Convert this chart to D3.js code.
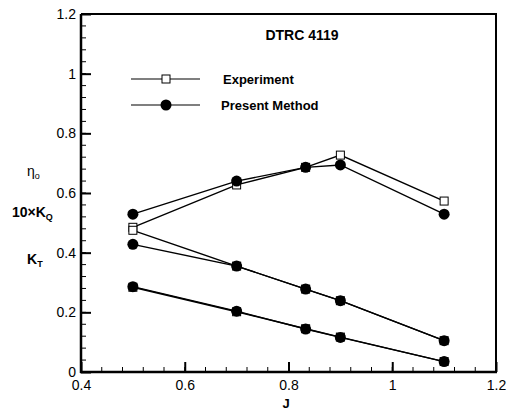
<!DOCTYPE html>
<html><head><meta charset="utf-8">
<script src="https://cdn.jsdelivr.net/npm/d3@7"></script>
<style>body{margin:0;background:#fff}svg{display:block;font-family:"Liberation Sans",Arial,sans-serif}</style>
</head><body><svg id="c" width="514" height="411"></svg>
<script>
const J = [0.5, 0.7, 0.833, 0.9, 1.1];
const etaExp = [0.485, 0.627, 0.686, 0.727, 0.573];
const etaPres = [0.529, 0.640, 0.686, 0.694, 0.529];
const kqExp = [0.475, 0.355, 0.278, 0.239, 0.105];
const kqPres = [0.428, 0.355, 0.278, 0.239, 0.105];
const ktExp = [0.284, 0.202, 0.145, 0.117, 0.035];
const ktPres = [0.286, 0.204, 0.144, 0.116, 0.035];
const xTicks = [0.4, 0.6, 0.8, 1, 1.2];
const yTicks = [0, 0.2, 0.4, 0.6, 0.8, 1, 1.2];
const title = "DTRC 4119";
const legendLabels = ["Experiment", "Present Method"];

const svg = d3.select("#c");
const x = d3.scaleLinear().domain([0.4, 1.2]).range([81, 496]);
const y = d3.scaleLinear().domain([0, 1.2]).range([372, 14]);

// minor ticks
const xMinor = d3.range(0.4, 1.2001, 0.04);
const yMinor = d3.range(0, 1.2001, 0.04);
const g = svg.append("g");
g.selectAll(".xm").data(xMinor).join("line")
  .attr("x1", d => x(d)).attr("x2", d => x(d)).attr("y1", 372).attr("y2", 367)
  .attr("stroke", "#000").attr("stroke-width", 1);
g.selectAll(".ym").data(yMinor).join("line")
  .attr("y1", d => y(d)).attr("y2", d => y(d)).attr("x1", 81).attr("x2", 86)
  .attr("stroke", "#000").attr("stroke-width", 1);

// axes with inward major ticks
const xAxis = svg.append("g").attr("transform", "translate(0,372)")
  .call(d3.axisBottom(x).tickValues(xTicks).tickSize(-10).tickFormat(d3.format("~g")).tickPadding(14));
const yAxis = svg.append("g").attr("transform", "translate(81,0)")
  .call(d3.axisLeft(y).tickValues(yTicks).tickSize(-10).tickFormat(d3.format("~g")).tickPadding(5));
[xAxis, yAxis].forEach(a => {
  a.select(".domain").remove();
  a.selectAll(".tick line").attr("stroke-width", 2);
  a.selectAll("text").attr("font-size", 14).attr("fill", "#000")
    .attr("font-family", "'Liberation Sans',Arial,sans-serif");
});
xAxis.selectAll("text").attr("dy", "0.3em");

// frame
svg.append("line").attr("x1", 81).attr("x2", 81).attr("y1", 14).attr("y2", 373).attr("stroke", "#000").attr("stroke-width", 2.5);
svg.append("line").attr("x1", 80).attr("x2", 497).attr("y1", 372).attr("y2", 372).attr("stroke", "#000").attr("stroke-width", 2.5);
svg.append("line").attr("x1", 81).attr("x2", 497).attr("y1", 14).attr("y2", 14).attr("stroke", "#000").attr("stroke-width", 2);
svg.append("line").attr("x1", 496).attr("x2", 496).attr("y1", 14).attr("y2", 373).attr("stroke", "#000").attr("stroke-width", 2);

const line = d3.line().x(d => x(d[0])).y(d => y(d[1]));
const expSeries = [etaExp, kqExp, ktExp];
const presSeries = [etaPres, kqPres, ktPres];
const plot = svg.append("g");
expSeries.concat(presSeries).forEach(s => {
  plot.append("path").datum(J.map((j, i) => [j, s[i]])).attr("d", line)
    .attr("fill", "none").attr("stroke", "#000").attr("stroke-width", 1.4);
});
expSeries.forEach(s => {
  plot.selectAll(null).data(J.map((j, i) => [j, s[i]])).join("rect")
    .attr("x", d => x(d[0]) - 4).attr("y", d => y(d[1]) - 4).attr("width", 8).attr("height", 8)
    .attr("fill", "#fff").attr("stroke", "#000").attr("stroke-width", 1);
});
presSeries.forEach(s => {
  plot.selectAll(null).data(J.map((j, i) => [j, s[i]])).join("circle")
    .attr("cx", d => x(d[0])).attr("cy", d => y(d[1])).attr("r", 5.5).attr("fill", "#000");
});

// title
svg.append("text").attr("x", 302).attr("y", 40).attr("text-anchor", "middle")
  .attr("font-size", 14).attr("font-weight", "bold").text(title);

// legend
const legY = [79, 105];
legendLabels.forEach((lab, i) => {
  svg.append("line").attr("x1", 131).attr("x2", 200).attr("y1", legY[i]).attr("y2", legY[i])
    .attr("stroke", "#000").attr("stroke-width", 1.2);
  if (i === 0) svg.append("rect").attr("x", 162).attr("y", legY[i] - 4).attr("width", 8).attr("height", 8)
    .attr("fill", "#fff").attr("stroke", "#000");
  else svg.append("circle").attr("cx", 166).attr("cy", legY[i]).attr("r", 5.5).attr("fill", "#000");
  svg.append("text").attr("x", i === 0 ? 223 : 221).attr("y", legY[i] + 4.5)
    .attr("font-size", 13).attr("font-weight", "bold").text(lab);
});

// y-axis labels
const yl1 = svg.append("text").attr("x", 27).attr("y", 176).attr("font-size", 14);
yl1.append("tspan").text("η");
yl1.append("tspan").attr("font-size", 9).attr("dy", 3).text("o");
const yl2 = svg.append("text").attr("x", 12).attr("y", 217).attr("font-size", 14).attr("font-weight", "bold");
yl2.append("tspan").text("10×K");
yl2.append("tspan").attr("font-size", 9).attr("dy", 3).text("Q");
const yl3 = svg.append("text").attr("x", 27).attr("y", 264).attr("font-size", 14).attr("font-weight", "bold");
yl3.append("tspan").text("K");
yl3.append("tspan").attr("font-size", 9).attr("dy", 3).text("T");

svg.append("text").attr("x", 286).attr("y", 405).attr("text-anchor", "middle")
  .attr("dominant-baseline", "middle")
  .attr("font-size", 13).attr("font-weight", "bold").text("J");
</script></body></html>
